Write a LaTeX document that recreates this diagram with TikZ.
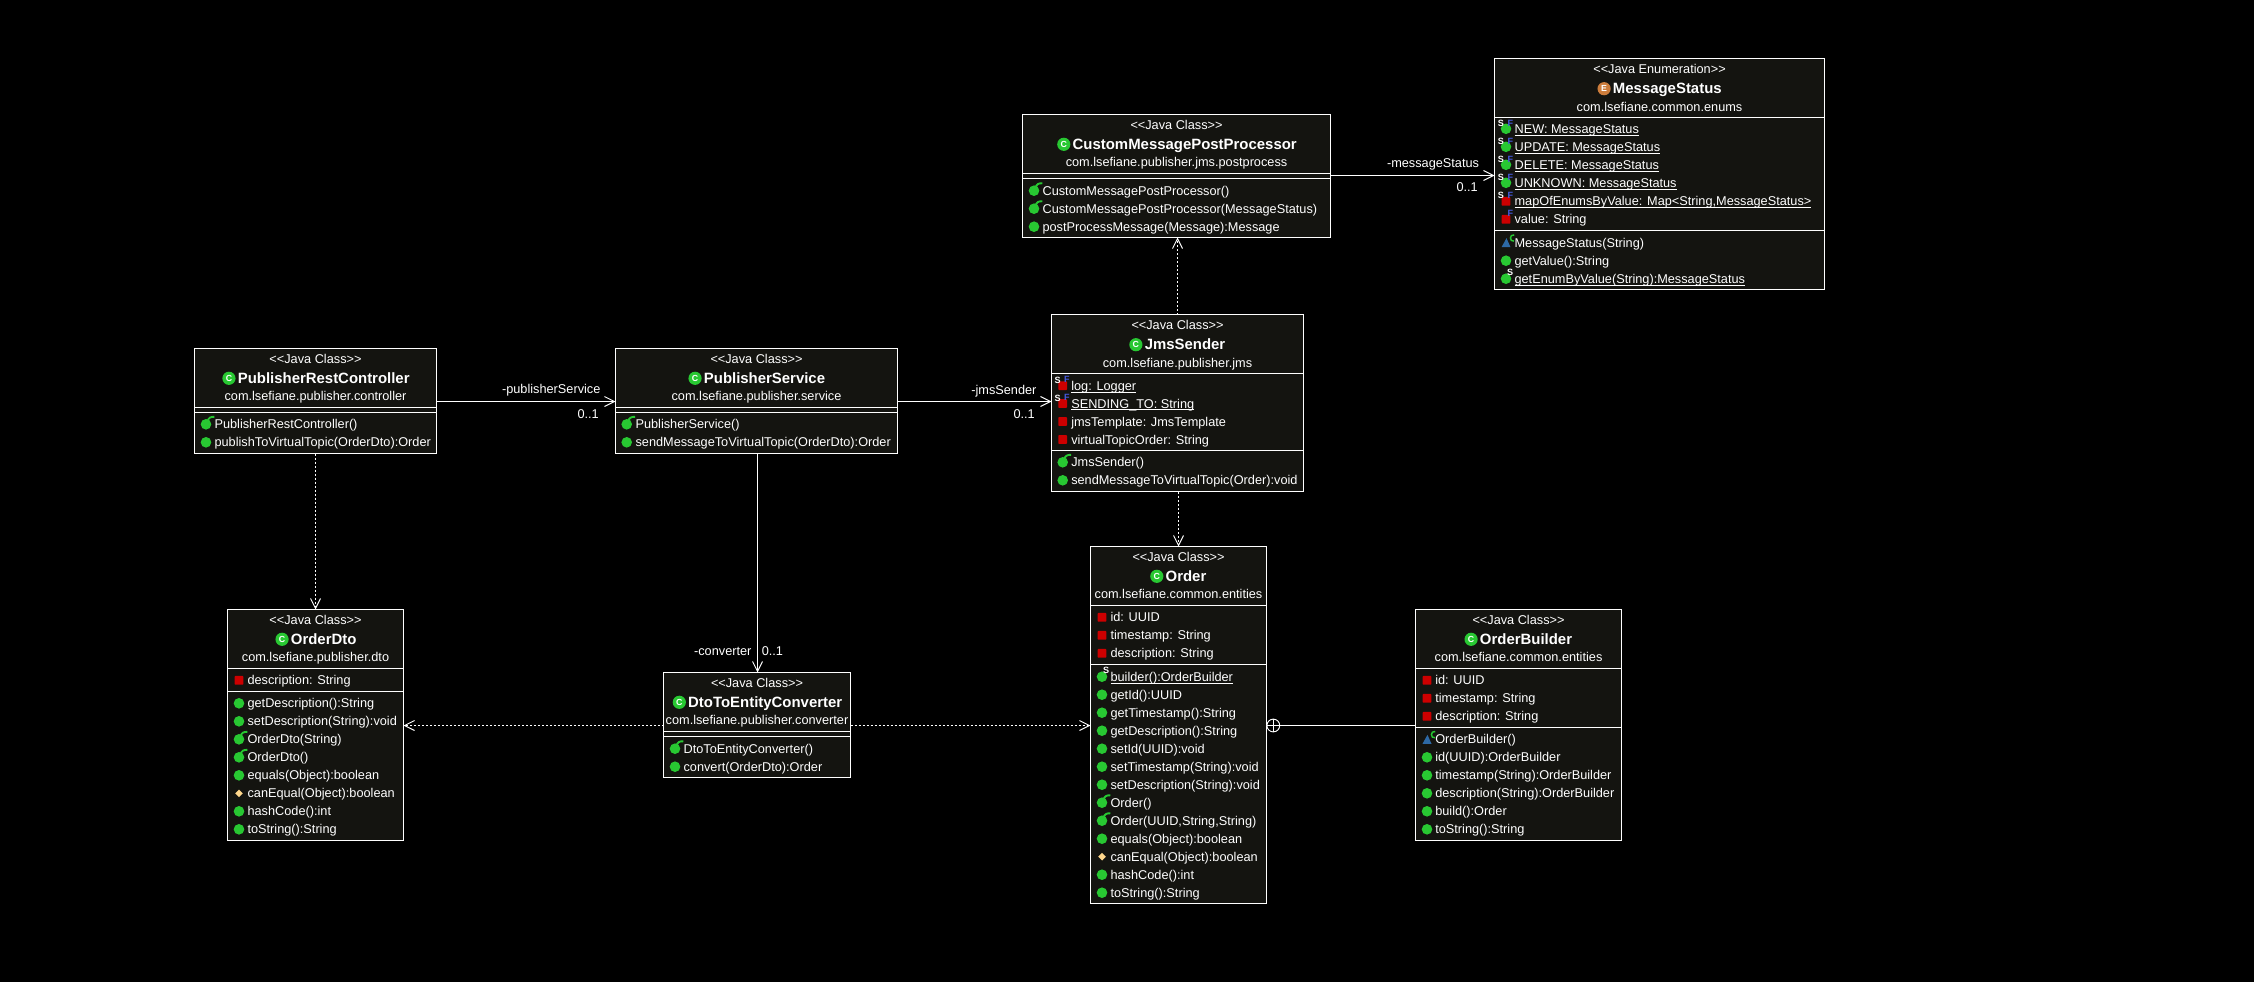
\documentclass[tikz,border=0pt]{standalone}
\usepackage{fontspec}
\setmainfont{Liberation Sans}
\usetikzlibrary{arrows.meta,calc}
\definecolor{boxfill}{RGB}{20,20,16}
\definecolor{pubgreen}{RGB}{40,200,50}
\definecolor{privred}{RGB}{205,0,0}
\definecolor{protyel}{RGB}{255,215,140}
\definecolor{pkgblue}{RGB}{45,105,165}
\definecolor{finblue}{RGB}{70,90,220}
\definecolor{enumor}{RGB}{205,125,60}
\newcounter{rw}
\newcommand\rowfont{\fontsize{9.55pt}{11pt}\selectfont}
\newcommand\ult[1]{\setbox0\hbox{#1}\rlap{\rule[-1.7pt]{\wd0}{0.75pt}}\box0}
\tikzset{
  classbox/.style={draw=white,fill=boxfill,line width=0.75pt,inner sep=0pt,outer sep=0pt,rectangle},
  sepline/.style={draw=white,line width=0.75pt},
  lbl/.style={text=white,inner sep=0pt,font=\rowfont},
  rowtxt/.style={lbl,anchor=base west},
  headtxt/.style={lbl,anchor=base},
  nametxt/.style={text=white,inner sep=0pt,anchor=base,font=\fontsize{11.2pt}{13pt}\selectfont\bfseries},
  badge/.style={inner sep=0pt,font=\fontsize{6.8pt}{7pt}\selectfont\bfseries},
  assoc/.style={draw=white,line width=0.75pt,-{Straight Barb[length=7.5pt,width=7.5pt,line width=0.7pt]}},
  depend/.style={assoc,dash pattern=on 1.5pt off 1.5pt},
  nestcirc/.style={circle,draw=white,fill=black,line width=0.7pt,minimum size=9.6pt,inner sep=0pt,outer sep=0pt},
  iconball/.style={circle,inner sep=0pt,outer sep=0pt,minimum size=9.9pt,text=white,font=\fontsize{6.6pt}{7pt}\selectfont\bfseries},
}
\newcommand\classbox[7]{%
  \pgfmathsetmacro\xa{floor(#2)+0.5}\pgfmathsetmacro\xb{floor(#4)+0.5}%
  \pgfmathsetmacro\ya{floor(#3)+0.5}\pgfmathsetmacro\yb{floor(#5)+0.5}%
  \pgfmathsetmacro\sa{floor(#6)+0.5}\pgfmathsetmacro\sb{floor(#7)+0.5}%
  \pgfmathsetmacro\bw{(\xb-\xa)*0.75}\pgfmathsetmacro\bh{(\yb-\ya)*0.75}%
  \pgfmathsetmacro\bx{(\xb+\xa)/2}\pgfmathsetmacro\by{(\yb+\ya)/2}%
  \node[classbox,minimum width=\bw pt,minimum height=\bh pt] (#1) at (\bx,\by) {};
  \draw[sepline] (#1.west |- 0,\sa) -- (#1.east |- 0,\sa);
  \draw[sepline] (#1.west |- 0,\sb) -- (#1.east |- 0,\sb);
}
\newcommand\classhead[8]{%
  \pgfmathsetmacro\ya{#2+15.2}\pgfmathsetmacro\yb{#2+35}\pgfmathsetmacro\yc{#2+52.5}\pgfmathsetmacro\yi{#2+30}%
  \node[headtxt] (#1-st) at (#1.north |- 0,\ya) {#3};
  \node[nametxt] (#1-nm) at (#8,\yb) {#4};
  \node[headtxt] (#1-pk) at (#1.north |- 0,\yc) {#5};
  \node[iconball,fill=#7] (#1-ic) at ($(#1-nm.west |- 0,\yi)+(-8.6,0)$) {#6};
}
\newcommand\mrow[3]{%
  \stepcounter{rw}%
  \pgfmathsetmacro\yt{#1+4.6}%
  \csname ic#2\endcsname{\ix}{#1}%
  \node[rowtxt] (row-\arabic{rw}) at (\tx,\yt) {#3};
}
\newcommand\dotball[3]{\fill[#3] (#1,#2) circle (5.3);}
\newcommand\sq[2]{\fill[privred,rounded corners=0.6pt] ($(#1,#2)+(-4.4,-4.4)$) rectangle ($(#1,#2)+(4.4,4.4)$);}
\newcommand\bS[2]{\node[badge,text=white] at ($(#1,#2)+(-5,-5.6)$) {S};}
\newcommand\bsS[2]{\node[badge,text=white] at ($(#1,#2)+(4.2,-6)$) {S};}
\newcommand\bF[2]{\node[badge,text=finblue] at ($(#1,#2)+(4.3,-6)$) {F};}
\newcommand\hook[2]{\draw[pubgreen,line width=1.4pt] ($(#1,#2)+(1.5,-2.5)$) .. controls ($(#1,#2)+(2,-6.5)$) and ($(#1,#2)+(5,-7.8)$) .. ($(#1,#2)+(8.3,-7.4)$);}
\newcommand\icpub[2]{\dotball{#1}{#2}{pubgreen}}
\newcommand\icctor[2]{\dotball{#1}{#2}{pubgreen}\hook{#1}{#2}}
\newcommand\icspub[2]{\dotball{#1}{#2}{pubgreen}\bsS{#1}{#2}}
\newcommand\icsfpub[2]{\dotball{#1}{#2-0.5}{pubgreen}\bS{#1}{#2}\bF{#1}{#2}}
\newcommand\icpriv[2]{\sq{#1}{#2}}
\newcommand\icfpriv[2]{\sq{#1}{#2}\bF{#1}{#2}}
\newcommand\icsfpriv[2]{\sq{#1}{#2}\bS{#1}{#2}\bF{#1}{#2}}
\newcommand\icprot[2]{\fill[protyel] ($(#1,#2)+(0,-3.8)$) -- ($(#1,#2)+(3.8,0)$) -- ($(#1,#2)+(0,3.8)$) -- ($(#1,#2)+(-3.8,0)$) -- cycle;}
\newcommand\icpkg[2]{\fill[pkgblue] ($(#1,#2)+(-4.5,4.5)$) -- ($(#1,#2)+(4.5,4.5)$) -- ($(#1,#2)+(0.5,-4.5)$) -- cycle;
  \draw[pubgreen,line width=1.1pt] ($(#1,#2)+(8.2,-7.8)$) .. controls ($(#1,#2)+(3.2,-8.8)$) and ($(#1,#2)+(3.2,-0.6)$) .. ($(#1,#2)+(8,-1.6)$);}
\begin{document}
\begin{tikzpicture}[x=0.75pt,y=-0.75pt]
\useasboundingbox (0,0) rectangle (2254,981);
\fill[black] (-6,-6) rectangle (2260,990);

% PublisherRestController
\classbox{ctl}{194.3}{348.3}{436.7}{453.3}{407.3}{412.3}
\classhead{ctl}{348.3}{<{}<Java Class>{}>}{PublisherRestController}{com.lsefiane.publisher.controller}{C}{pubgreen}{323.7}
\def\ix{206}\def\tx{214.3}
\mrow{424.3}{ctor}{PublisherRestController()}
\mrow{442.3}{pub}{publishToVirtualTopic(OrderDto):Order}

% PublisherService
\classbox{svc}{615.3}{348.3}{897.3}{453.3}{407.3}{412.3}
\classhead{svc}{348.3}{<{}<Java Class>{}>}{PublisherService}{com.lsefiane.publisher.service}{C}{pubgreen}{764.5}
\def\ix{626.7}\def\tx{635.3}
\mrow{424.3}{ctor}{PublisherService()}
\mrow{442.3}{pub}{sendMessageToVirtualTopic(OrderDto):Order}

% JmsSender
\classbox{jms}{1051.7}{314.7}{1303.7}{491.3}{373.3}{450.3}
\classhead{jms}{314.7}{<{}<Java Class>{}>}{JmsSender}{com.lsefiane.publisher.jms}{C}{pubgreen}{1185}
\def\ix{1062.7}\def\tx{1071}
\mrow{385.7}{sfpriv}{\ult{log: Logger}}
\mrow{403.5}{sfpriv}{\ult{SENDING\_TO: String}}
\mrow{421.5}{priv}{jmsTemplate: JmsTemplate}
\mrow{439.5}{priv}{virtualTopicOrder: String}
\mrow{462.3}{ctor}{JmsSender()}
\mrow{480.3}{pub}{sendMessageToVirtualTopic(Order):void}

% CustomMessagePostProcessor
\classbox{cmp}{1022.3}{114.3}{1330.3}{237.3}{173.3}{178.3}
\classhead{cmp}{114.3}{<{}<Java Class>{}>}{CustomMessagePostProcessor}{com.lsefiane.publisher.jms.postprocess}{C}{pubgreen}{1184.7}
\def\ix{1034}\def\tx{1042.3}
\mrow{190.7}{ctor}{CustomMessagePostProcessor()}
\mrow{208.7}{ctor}{CustomMessagePostProcessor(MessageStatus)}
\mrow{226.7}{pub}{postProcessMessage(Message):Message}

% MessageStatus
\classbox{ms}{1494.3}{58.7}{1824.3}{289.3}{117.3}{230.3}
\classhead{ms}{58.7}{<{}<Java Enumeration>{}>}{MessageStatus}{com.lsefiane.common.enums}{E}{enumor}{1667.3}
\def\ix{1506}\def\tx{1514.3}
\mrow{129.3}{sfpub}{\ult{NEW: MessageStatus}}
\mrow{147.3}{sfpub}{\ult{UPDATE: MessageStatus}}
\mrow{165.3}{sfpub}{\ult{DELETE: MessageStatus}}
\mrow{183.3}{sfpub}{\ult{UNKNOWN: MessageStatus}}
\mrow{201.3}{sfpriv}{\ult{mapOfEnumsByValue: Map<String,MessageStatus>}}
\mrow{219.3}{fpriv}{value: String}
\mrow{242.7}{pkg}{MessageStatus(String)}
\mrow{260.7}{pub}{getValue():String}
\mrow{278.7}{spub}{\ult{getEnumByValue(String):MessageStatus}}

% Order
\classbox{ord}{1090.7}{546.3}{1266.3}{903.3}{605.3}{664.3}
\classhead{ord}{546.3}{<{}<Java Class>{}>}{Order}{com.lsefiane.common.entities}{C}{pubgreen}{1186}
\def\ix{1102}\def\tx{1110.3}
\mrow{617.3}{priv}{id: UUID}
\mrow{635.3}{priv}{timestamp: String}
\mrow{653.3}{priv}{description: String}
\mrow{676.7}{spub}{\ult{builder():OrderBuilder}}
\mrow{694.7}{pub}{getId():UUID}
\mrow{712.7}{pub}{getTimestamp():String}
\mrow{730.7}{pub}{getDescription():String}
\mrow{748.7}{pub}{setId(UUID):void}
\mrow{766.7}{pub}{setTimestamp(String):void}
\mrow{784.7}{pub}{setDescription(String):void}
\mrow{802.7}{ctor}{Order()}
\mrow{820.7}{ctor}{Order(UUID,String,String)}
\mrow{838.7}{pub}{equals(Object):boolean}
\mrow{856.7}{prot}{canEqual(Object):boolean}
\mrow{874.7}{pub}{hashCode():int}
\mrow{892.7}{pub}{toString():String}

% OrderBuilder
\classbox{bld}{1415.3}{609.3}{1621.3}{840.3}{668.3}{727.3}
\classhead{bld}{609.3}{<{}<Java Class>{}>}{OrderBuilder}{com.lsefiane.common.entities}{C}{pubgreen}{1526}
\def\ix{1427}\def\tx{1435}
\mrow{680.3}{priv}{id: UUID}
\mrow{698.3}{priv}{timestamp: String}
\mrow{716.3}{priv}{description: String}
\mrow{739.3}{pkg}{OrderBuilder()}
\mrow{757.3}{pub}{id(UUID):OrderBuilder}
\mrow{775.3}{pub}{timestamp(String):OrderBuilder}
\mrow{793.3}{pub}{description(String):OrderBuilder}
\mrow{811.3}{pub}{build():Order}
\mrow{829.3}{pub}{toString():String}

% OrderDto
\classbox{dto}{227.3}{609.3}{403.3}{840.3}{668.3}{691}
\classhead{dto}{609.3}{<{}<Java Class>{}>}{OrderDto}{com.lsefiane.publisher.dto}{C}{pubgreen}{323.7}
\def\ix{239}\def\tx{247.3}
\mrow{680.3}{priv}{description: String}
\mrow{703.3}{pub}{getDescription():String}
\mrow{721.3}{pub}{setDescription(String):void}
\mrow{739.3}{ctor}{OrderDto(String)}
\mrow{757.3}{ctor}{OrderDto()}
\mrow{775.3}{pub}{equals(Object):boolean}
\mrow{793.3}{prot}{canEqual(Object):boolean}
\mrow{811.3}{pub}{hashCode():int}
\mrow{829.3}{pub}{toString():String}

% DtoToEntityConverter
\classbox{cnv}{663.3}{672.3}{850.7}{777.3}{731.3}{736.3}
\classhead{cnv}{672.3}{<{}<Java Class>{}>}{DtoToEntityConverter}{com.lsefiane.publisher.converter}{C}{pubgreen}{765.2}
\def\ix{675}\def\tx{683.3}
\mrow{748.7}{ctor}{DtoToEntityConverter()}
\mrow{766.7}{pub}{convert(OrderDto):Order}

% connectors
\draw[assoc] (ctl.east |- 0,401.5) -- (svc.west |- 0,401.5);
\draw[assoc] (svc.east |- 0,401.5) -- (jms.west |- 0,401.5);
\draw[assoc] (cmp.east |- 0,175.5) -- (ms.west |- 0,175.5);
\draw[assoc] (svc.south -| 757.5,0) -- (cnv.north -| 757.5,0);
\draw[depend] (ctl.south -| 315.5,0) -- (dto.north -| 315.5,0);
\draw[depend] (jms.north -| 1177.5,0) -- (cmp.south -| 1177.5,0);
\draw[depend] (jms.south -| 1178.5,0) -- (ord.north -| 1178.5,0);
\draw[depend] (cnv.west |- 0,725.5) -- (dto.east |- 0,725.5);
\draw[depend] (cnv.east |- 0,725.5) -- (ord.west |- 0,725.5);
\node[nestcirc] (nest) at (1273.3,725.5) {};
\draw[sepline,line width=0.7pt] (nest.north) -- (nest.south) (nest.west) -- (nest.east);
\draw[sepline] (bld.west |- nest.east) -- (nest.east);

% connector labels
\node[lbl,anchor=base east] (l1) at (600.7,393) {-publisherService};
\node[lbl,anchor=base east] (l2) at (599,418) {0..1};
\node[lbl,anchor=base east] (l3) at (1036.7,394.3) {-jmsSender};
\node[lbl,anchor=base east] (l4) at (1035,418.5) {0..1};
\node[lbl,anchor=base east] (l5) at (1479.3,167) {-messageStatus};
\node[lbl,anchor=base east] (l6) at (1478,191.7) {0..1};
\node[lbl,anchor=base east] (l7) at (751.7,655.3) {-converter};
\node[lbl,anchor=base east] (l8) at (783.3,655.5) {0..1};
\end{tikzpicture}
\end{document}
